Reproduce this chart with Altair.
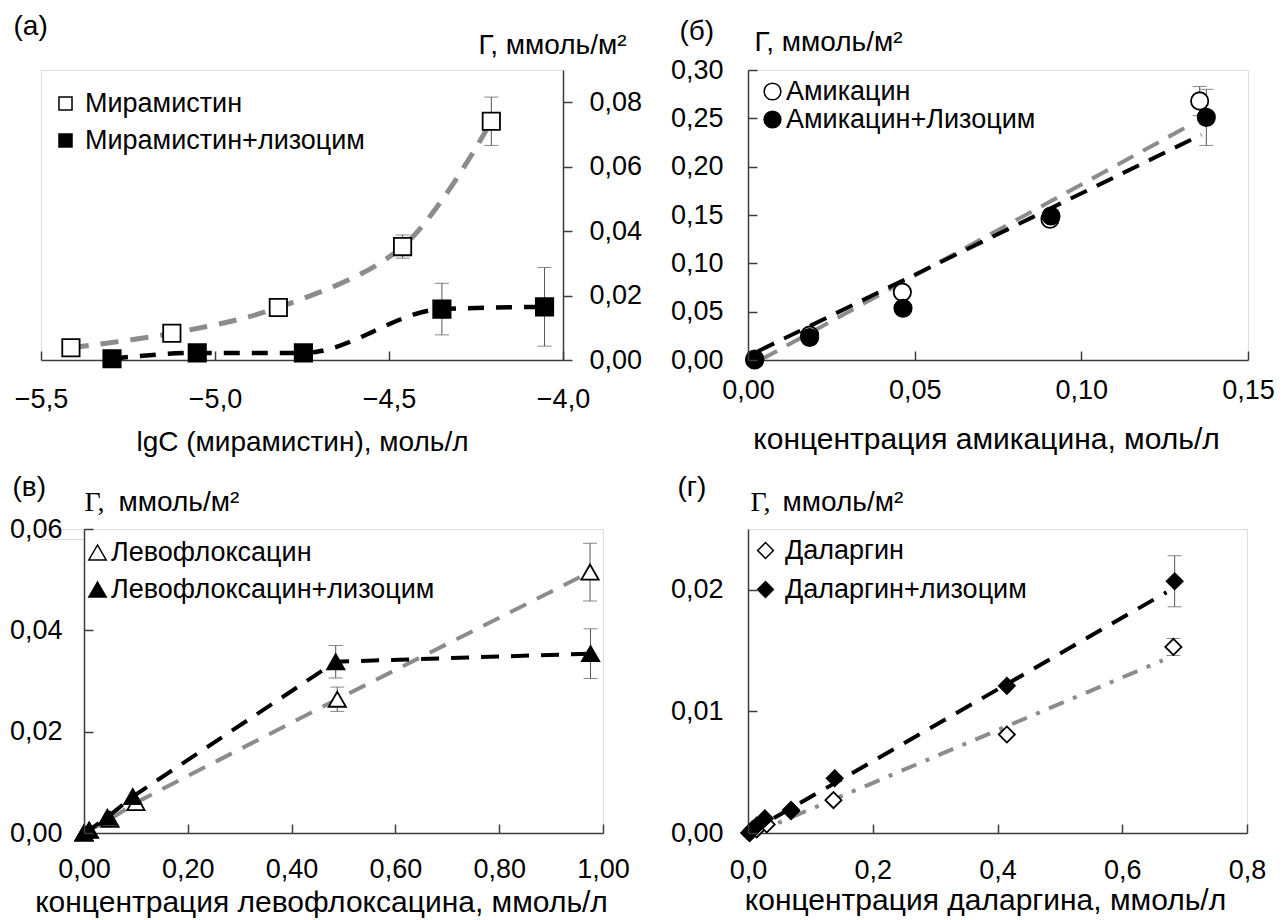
import altair as alt
import pandas as pd

FONT = "Liberation Sans"
SERIF = "Liberation Serif"
AXC = "#3c3c3c"
GRAY = "#8c8c8c"
ERRC = "#555555"

# ---------------- (а) ----------------
a_names = ["Мирамистин", "Мирамистин+лизоцим"]
a_open_x = [-5.414, -5.124, -4.818, -4.461, -4.206]
a_open_y = [0.0038, 0.0083, 0.0163, 0.0352, 0.0741]
a_open_err = [0, 0, 0, 0.0036, 0.0075]
a_fill_x = [-5.296, -5.051, -4.746, -4.348, -4.053]
a_fill_y = [0.0004, 0.0022, 0.0022, 0.0158, 0.0165]
a_fill_err = [0, 0, 0, 0.0080, 0.0122]
a_xticks = [-5.5, -5.0, -4.5, -4.0]
a_yticks = [0.0, 0.02, 0.04, 0.06, 0.08]

# ---------------- (б) ----------------
b_names = ["Амикацин", "Амикацин+Лизоцим"]
b_open_x = [0.002, 0.0185, 0.0463, 0.0906, 0.1355]
b_open_y = [0.001, 0.0257, 0.0702, 0.1457, 0.268]
b_open_err = [0, 0, 0, 0, 0.015]
b_fill_x = [0.002, 0.0185, 0.0465, 0.0909, 0.1375]
b_fill_y = [0.0, 0.0233, 0.0535, 0.149, 0.251]
b_fill_err = [0, 0, 0, 0, 0.029]
b_open_trend_x = [0.004, 0.131]
b_open_trend_y = [0.0005, 0.240]
b_fill_trend_x = [0.003, 0.136]
b_fill_trend_y = [0.009, 0.233]
b_xticks = [0.0, 0.05, 0.10, 0.15]
b_yticks = [0.0, 0.05, 0.10, 0.15, 0.20, 0.25, 0.30]

# ---------------- (в) ----------------
c_names = ["Левофлоксацин", "Левофлоксацин+лизоцим"]
c_open_x = [0.0, 0.01, 0.05, 0.10, 0.488, 0.975]
c_open_y = [0.0, 0.0005, 0.0027, 0.0060, 0.0264, 0.0515]
c_open_err = [0, 0, 0, 0, 0.0024, 0.0057]
c_fill_x = [0.0, 0.01, 0.045, 0.094, 0.485, 0.976]
c_fill_y = [0.0, 0.0006, 0.0031, 0.0072, 0.0338, 0.0354]
c_fill_err = [0, 0, 0, 0, 0.0032, 0.0049]
c_xticks = [0.0, 0.2, 0.4, 0.6, 0.8, 1.0]
c_yticks = [0.0, 0.02, 0.04, 0.06]

# ---------------- (г) ----------------
d_names = ["Даларгин", "Даларгин+лизоцим"]
d_open_x = [0.003, 0.014, 0.030, 0.069, 0.137, 0.415, 0.682]
d_open_y = [0.0, 0.0003, 0.0007, 0.0018, 0.0027, 0.0081, 0.0153]
d_open_err = [0, 0, 0, 0, 0, 0, 0.0007]
d_fill_x = [0.002, 0.007, 0.014, 0.027, 0.069, 0.139, 0.415, 0.684]
d_fill_y = [0.0, 0.0003, 0.0006, 0.0012, 0.0019, 0.0045, 0.0121, 0.0207]
d_fill_err = [0, 0, 0, 0, 0, 0, 0, 0.0021]
d_open_trend_x = [0.01, 0.665]
d_open_trend_y = [0.0, 0.0142]
d_fill_trend_x = [0.0, 0.671]
d_fill_trend_y = [0.0, 0.0198]
d_xticks = [0.0, 0.2, 0.4, 0.6, 0.8]
d_yticks = [0.0, 0.01, 0.02]


def lab(n):
    return "replace(format(datum.value, '.%df'), '.', ',')" % n


def points_df(names, ox, oy, fx, fy):
    rows = [{"x": x, "y": y, "s": names[0]} for x, y in zip(ox, oy)]
    rows += [{"x": x, "y": y, "s": names[1]} for x, y in zip(fx, fy)]
    return pd.DataFrame(rows)


def err_df(ox, oy, oe, fx, fy, fe):
    rows = []
    for xs, ys, es in ((ox, oy, oe), (fx, fy, fe)):
        for x, y, e in zip(xs, ys, es):
            if e > 0:
                rows.append({"x": x, "lo": y - e, "hi": y + e})
    return pd.DataFrame(rows)


def line_df(xs, ys):
    return pd.DataFrame({"x": xs, "y": ys, "o": list(range(len(xs)))})


def extra_axis(orient, offset, values, ticks, title=None, tfont=FONT, tx=0, ty=0):
    # tick-only axis pushed onto the opposite edge so its ticks point inward
    kw = dict(orient=orient, offset=offset, values=values, domain=False,
              labels=False, grid=False, ticks=ticks, tickSize=9 if ticks else 0,
              tickColor=AXC, tickWidth=1.5, zindex=1)
    if title:
        kw.update(title=title, titleFont=tfont, titleFontSize=28,
                  titleFontWeight="normal", titleColor="black", titleAngle=0,
                  titleX=tx, titleY=ty, titleAlign="left",
                  titleBaseline="alphabetic")
    else:
        kw.update(title=None)
    return alt.Axis(**kw)


def panel(P):
    xs = alt.Scale(domain=P["xdom"], nice=False, zero=False)
    ys = alt.Scale(domain=P["ydom"], nice=False, zero=False)
    xa = alt.Axis(orient="bottom", values=P["xticks"], labelExpr=lab(P["xf"]),
                  ticks=False, tickSize=0, domain=True, domainColor=AXC,
                  domainWidth=1.5, grid=False, labelFont=FONT, labelFontSize=27,
                  labelColor="black", labelBaseline="alphabetic",
                  labelPadding=P["xlp"], labelFlush=False, labelOverlap=False,
                  title=P["xtitle"], titleFont=FONT, titleFontSize=P["xtfs"],
                  titleFontWeight="normal", titleColor="black",
                  titleX=P["xtx"], titleY=P["xty"], titleAlign="center",
                  titleBaseline="alphabetic")
    ya = alt.Axis(orient=P["yorient"], values=P["yticks"], labelExpr=lab(P["yf"]),
                  ticks=P["yticks_on"], tickSize=9 if P["yticks_on"] else 0,
                  tickColor=AXC, tickWidth=1.5, domain=True, domainColor=AXC,
                  domainWidth=1.5, grid=False, labelFont=FONT, labelFontSize=27,
                  labelColor="black", labelBaseline="middle",
                  labelPadding=P["ylp"], labelFlush=False, labelOverlap=False,
                  title=P["ytitle"], titleFont=FONT, titleFontSize=28,
                  titleFontWeight="normal", titleColor="black", titleAngle=0,
                  titleX=P["ytx"], titleY=P["yty"], titleAlign="left",
                  titleBaseline="alphabetic")
    layers = []
    edf = P["err"]
    layers.append(
        alt.Chart(edf).mark_errorbar(ticks=True, size=14, thickness=1, color=ERRC)
        .encode(x=alt.X("x:Q", scale=xs, axis=None),
                y=alt.Y("lo:Q", scale=ys, axis=None), y2="hi:Q"))
    for i, (ldf, col, w, dash, interp) in enumerate(P["lines"]):
        layers.append(
            alt.Chart(ldf).mark_line(color=col, strokeWidth=w, strokeDash=dash,
                                     interpolate=interp)
            .encode(x=alt.X("x:Q", scale=xs, axis=xa if i == 0 else None),
                    y=alt.Y("y:Q", scale=ys, axis=ya if i == 0 else None),
                    order="o:Q"))
    names = P["names"]
    leg = alt.Legend(orient="none", legendX=P["lx"], legendY=P["ly"], title=None,
                     labelFont=FONT, labelFontSize=27, labelColor="black",
                     labelLimit=1000, symbolSize=P["lsize"],
                     symbolStrokeWidth=1.5,
                     rowPadding=P["lrow"], labelOffset=P["loff"], padding=0,
                     offset=0, symbolOpacity=1)
    layers.append(
        alt.Chart(P["pts"]).mark_point(filled=True, strokeWidth=P["psw"],
                                       size=P["psize"], opacity=1)
        .encode(x=alt.X("x:Q", scale=xs, axis=P["xe"]),
                y=alt.Y("y:Q", scale=ys, axis=P["ye"]),
                shape=alt.Shape("s:N", scale=alt.Scale(domain=names, range=[P["shape"]] * 2), legend=leg),
                fill=alt.Fill("s:N", scale=alt.Scale(domain=names, range=["white", "black"]), legend=leg),
                stroke=alt.Stroke("s:N", scale=alt.Scale(domain=names, range=["black", "black"]), legend=leg)))
    return alt.layer(*layers).resolve_axis(x="independent", y="independent").properties(
        width=P["w"], height=P["h"])


YT = "Г, ммоль/м²"

A = panel(dict(
    xdom=[-5.5, -4.0], ydom=[0, 0.09], xticks=a_xticks, yticks=a_yticks, xf=1, yf=2,
    w=522, h=290, xlp=47, xtitle="lgC (мирамистин), моль/л", xtfs=28, xtx=261, xty=90,
    yorient="right", yticks_on=True, ylp=17, ytitle=YT, ytx=-85, yty=-17,
    err=err_df(a_open_x, a_open_y, a_open_err, a_fill_x, a_fill_y, a_fill_err),
    lines=[(line_df(a_open_x, a_open_y), GRAY, 5, [18, 12], "catmull-rom"),
           (line_df(a_fill_x, a_fill_y), "black", 4.5, [16, 12], "monotone")],
    names=a_names, pts=points_df(a_names, a_open_x, a_open_y, a_fill_x, a_fill_y),
    shape="square", psize=300, psw=1.8,
    lx=11, ly=20, lsize=170, lrow=9, loff=6,
    xe=extra_axis("top", -290, a_xticks, True),
    ye=extra_axis("left", 0, a_yticks, False, "(а)", FONT, -28, -36),
))

B = panel(dict(
    xdom=[0, 0.15], ydom=[0, 0.30], xticks=b_xticks, yticks=b_yticks, xf=2, yf=2,
    w=500, h=290, xlp=38, xtitle="концентрация амикацина, моль/л", xtfs=30, xtx=238, xty=88,
    yorient="left", yticks_on=False, ylp=25, ytitle=YT, ytx=6, yty=-20,
    err=err_df(b_open_x, b_open_y, b_open_err, b_fill_x, b_fill_y, b_fill_err),
    lines=[(line_df(b_open_trend_x, b_open_trend_y), GRAY, 4, [18, 11], "linear"),
           (line_df(b_fill_trend_x, b_fill_trend_y), "black", 4, [18, 11], "linear")],
    names=b_names, pts=points_df(b_names, b_open_x, b_open_y, b_fill_x, b_fill_y),
    shape="circle", psize=300, psw=1.8,
    lx=11, ly=8, lsize=280, lrow=0, loff=0,
    xe=extra_axis("top", -290, b_xticks, True),
    ye=extra_axis("right", -500, b_yticks, True, "(б)", FONT, -69, -31),
))

C = panel(dict(
    xdom=[0, 1.0], ydom=[0, 0.06], xticks=c_xticks, yticks=c_yticks, xf=2, yf=2,
    w=519, h=304, xlp=44, xtitle="концентрация левофлоксацина, ммоль/л", xtfs=30, xtx=237, xty=78,
    yorient="left", yticks_on=False, ylp=22, ytitle="ммоль/м²", ytx=34, yty=-19,
    err=err_df(c_open_x, c_open_y, c_open_err, c_fill_x, c_fill_y, c_fill_err),
    lines=[(line_df(c_open_x, c_open_y), GRAY, 4, [18, 12], "linear"),
           (line_df(c_fill_x, c_fill_y), "black", 4, [18, 12], "linear")],
    names=c_names, pts=points_df(c_names, c_open_x, c_open_y, c_fill_x, c_fill_y),
    shape="triangle-up", psize=300, psw=1.8,
    lx=0, ly=10, lsize=300, lrow=9, loff=0,
    xe=extra_axis("top", -304, c_xticks, True, "(в)", FONT, -72, -338),
    ye=extra_axis("right", -519, c_yticks, True, "Г,", SERIF, 0, -19),
))

D = panel(dict(
    xdom=[0, 0.8], ydom=[0, 0.025], xticks=d_xticks, yticks=d_yticks, xf=1, yf=2,
    w=499, h=304, xlp=45, xtitle="концентрация даларгина, ммоль/л", xtfs=30, xtx=237, xty=76,
    yorient="left", yticks_on=False, ylp=25, ytitle="ммоль/м²", ytx=34, yty=-19,
    err=err_df(d_open_x, d_open_y, d_open_err, d_fill_x, d_fill_y, d_fill_err),
    lines=[(line_df(d_open_trend_x, d_open_trend_y), GRAY, 4, [16, 10, 4, 10], "linear"),
           (line_df(d_fill_trend_x, d_fill_trend_y), "black", 4, [18, 12], "linear")],
    names=d_names, pts=points_df(d_names, d_open_x, d_open_y, d_fill_x, d_fill_y),
    shape="diamond", psize=260, psw=1.8,
    lx=4, ly=8, lsize=250, lrow=11, loff=6,
    xe=extra_axis("top", -304, d_xticks, True, "(г)", FONT, -71, -338),
    ye=extra_axis("right", -499, d_yticks, True, "Г,", SERIF, 2, -19),
))

spacer = alt.Chart(pd.DataFrame({"v": [0]})).mark_point(opacity=0).encode(
    x=alt.X("v:Q", axis=None), y=alt.Y("v:Q", axis=None)).properties(width=43, height=10)

RS = dict(x="independent", y="independent", shape="independent",
          fill="independent", stroke="independent")
top = alt.hconcat(A, B, spacing=185, bounds="flush").resolve_scale(**RS)
inner = alt.hconcat(C, D, spacing=145, bounds="flush").resolve_scale(**RS)
bottom = alt.hconcat(spacer, inner, spacing=0, bounds="flush").resolve_scale(**RS)
chart = alt.vconcat(top, bottom, spacing=459, bounds="flush").resolve_scale(**RS).properties(
    padding={"left": 0, "top": 3, "right": 0, "bottom": 0}
).configure_view(stroke=None).configure(font=FONT)

chart.save("out.html", embed_options={"renderer": "svg", "actions": False})
